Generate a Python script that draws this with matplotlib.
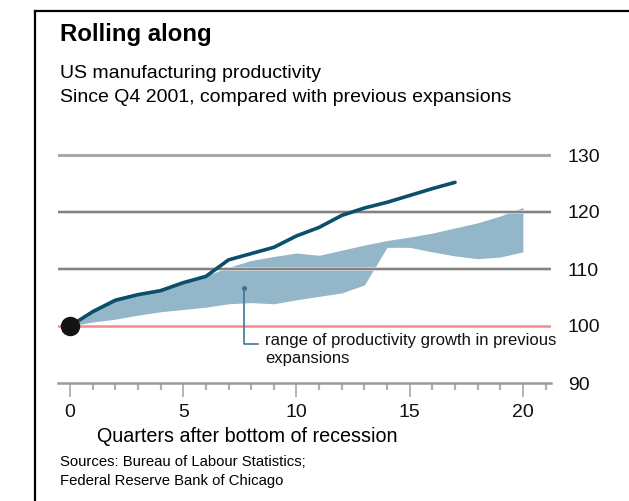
import matplotlib
matplotlib.use("Agg")
import matplotlib.pyplot as plt
from matplotlib.lines import Line2D
from matplotlib.ticker import MultipleLocator

plt.rcParams['font.family'] = ['Liberation Sans', 'DejaVu Sans']

# US manufacturing productivity, index = 100 at bottom of recession
quarters_now = list(range(0, 18))
productivity_now = [100, 102.5, 104.5, 105.5, 106.2, 107.6, 108.7, 111.6, 112.7,
                    113.8, 115.8, 117.3, 119.4, 120.7, 121.7, 122.9, 124.1, 125.2]

# range in previous expansions
quarters_prev = list(range(0, 21))
range_high = [100, 103, 105, 105.8, 106.5, 107.5, 108.8, 110.3, 111.5, 112.2, 112.8,
              112.4, 113.3, 114.2, 115, 115.6, 116.3, 117.2, 118.1, 119.3, 120.8]
range_low = [100, 100.7, 101.2, 101.9, 102.5, 102.9, 103.3, 103.9, 104.1, 103.9, 104.6,
             105.2, 105.8, 107.2, 113.8, 113.8, 113, 112.3, 111.8, 112.1, 113]

y_ticks = [90, 100, 110, 120, 130]
x_ticks = [0, 5, 10, 15, 20]

line_color = '#0b4f6c'
band_color = '#93b6c9'

fig = plt.figure(figsize=(6.29, 5.01), dpi=100, facecolor='white')
ax = fig.add_axes([58 / 629, 1 - 394.4 / 501, 493 / 629, 250.8 / 501])
ax.set_xlim(-0.53, 21.24)
ax.set_ylim(88, 132)

# horizontal rules
ax.axhline(130, color='#a9a9a9', lw=2.2, zorder=3)
for v in (110, 120):
    ax.axhline(v, color='#d0d0d0', lw=2.6, zorder=3)
    ax.axhline(v, color='#747474', lw=1.2, zorder=3)
ax.axhline(100, color='#f58a8c', lw=1.8, zorder=3)

ax.fill_between(quarters_prev, range_low, range_high, color=band_color, lw=0, zorder=2)
ax.plot(quarters_now, productivity_now, color=line_color, lw=2.6, zorder=4,
        solid_capstyle='round')
ax.plot([0], [100], 'o', color='#141414', ms=13, zorder=5)

# annotation pointer
ax.plot([7.68], [106.7], 'o', color='#2f6b88', ms=2.5, zorder=5)
ax.plot([7.68, 7.68, 8.3], [106.7, 96.8, 96.8], color='#3c7896', lw=1.2, zorder=5)
ax.text(8.62, 95.9, 'range of productivity growth in previous\nexpansions',
        fontsize=12, va='center', ha='left', linespacing=1.25, color='#111111')

# axes
for s in ('top', 'right', 'left'):
    ax.spines[s].set_visible(False)
ax.spines['bottom'].set_position(('data', 90))
ax.spines['bottom'].set_color('#9a9a9a')
ax.spines['bottom'].set_linewidth(1.8)
ax.set_xticks(x_ticks)
ax.xaxis.set_minor_locator(MultipleLocator(1))
ax.tick_params(axis='x', which='major', length=10, width=1.2, color='#a8a8a8',
               labelsize=14, pad=5, labelcolor='#111111')
ax.tick_params(axis='x', which='minor', length=5, width=1.6, color='#b0b0b0')

ax.yaxis.tick_right()
ax.set_yticks(y_ticks)
ax.tick_params(axis='y', length=0, pad=12, labelsize=14, labelcolor='#111111')

# titles and notes
fig.text(60 / 629, 1 - 35 / 501, 'Rolling along', fontsize=17.3, fontweight='bold',
         va='center', ha='left')
fig.text(60 / 629, 1 - 73 / 501, 'US manufacturing productivity', fontsize=14,
         va='center', ha='left')
fig.text(60 / 629, 1 - 97 / 501, 'Since Q4 2001, compared with previous expansions',
         fontsize=14, va='center', ha='left')
fig.text(97 / 629, 1 - 437 / 501, 'Quarters after bottom of recession', fontsize=14.2,
         va='center', ha='left')
fig.text(60 / 629, 1 - 462 / 501, 'Sources: Bureau of Labour Statistics;', fontsize=10.7,
         va='center', ha='left')
fig.text(60 / 629, 1 - 481 / 501, 'Federal Reserve Bank of Chicago', fontsize=10.7,
         va='center', ha='left')

# page frame
fig.add_artist(Line2D([34.5 / 629, 34.5 / 629], [0, 1 - 10.5 / 501], color='black', lw=1.6))
fig.add_artist(Line2D([34.5 / 629, 1], [1 - 10.5 / 501, 1 - 10.5 / 501], color='black', lw=1.6))

fig.savefig('out.png', dpi=100, facecolor='white')
